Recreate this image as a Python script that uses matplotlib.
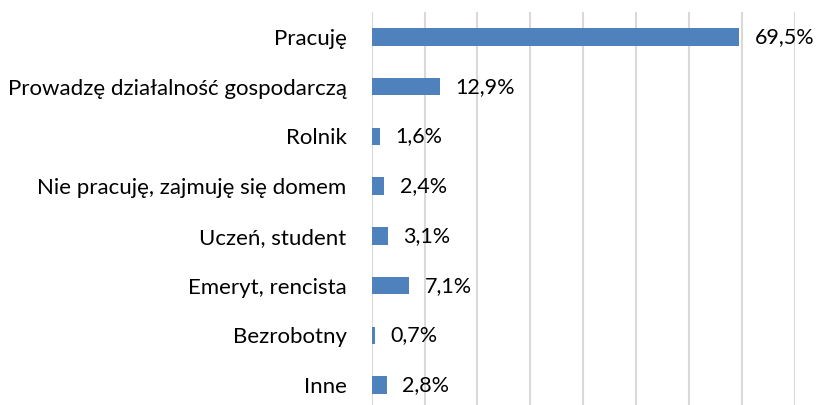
import matplotlib.pyplot as plt

categories = ["Pracuję", "Prowadzę działalność gospodarczą", "Rolnik",
              "Nie pracuję, zajmuję się domem", "Uczeń, student",
              "Emeryt, rencista", "Bezrobotny", "Inne"]
values = [69.5, 12.9, 1.6, 2.4, 3.1, 7.1, 0.7, 2.8]
xticks = [0, 10, 20, 30, 40, 50, 60, 70, 80]

plt.rcParams['font.family'] = ['Lato', 'DejaVu Sans']

fig = plt.figure(figsize=(8.17, 4.05), dpi=100)
ax = fig.add_axes([371.7 / 817, 0.0, (794.7 - 371.7) / 817, 1 - 12 / 405])

y = list(range(len(categories)))
ax.barh(y, values, height=0.35, color="#4F81BD", zorder=3)

for yi, v in zip(y, values):
    ax.text(v + 2.9, yi, f"{v:.1f}%".replace(".", ","), va="center", ha="left",
            fontsize=15.5, color="black")

ax.set_xlim(0, 80)
ax.set_ylim(7.40, -0.5)
ax.set_xticks(xticks)
ax.set_xticklabels([])
ax.set_yticks(y)
ax.set_yticklabels(categories, fontsize=16)
ax.tick_params(axis="both", length=0)
ax.tick_params(axis="y", pad=18)
ax.grid(axis="x", color="#D9D9D9", linewidth=1.5, zorder=0)
for s in ax.spines.values():
    s.set_visible(False)

fig.savefig("out.png", dpi=100)
